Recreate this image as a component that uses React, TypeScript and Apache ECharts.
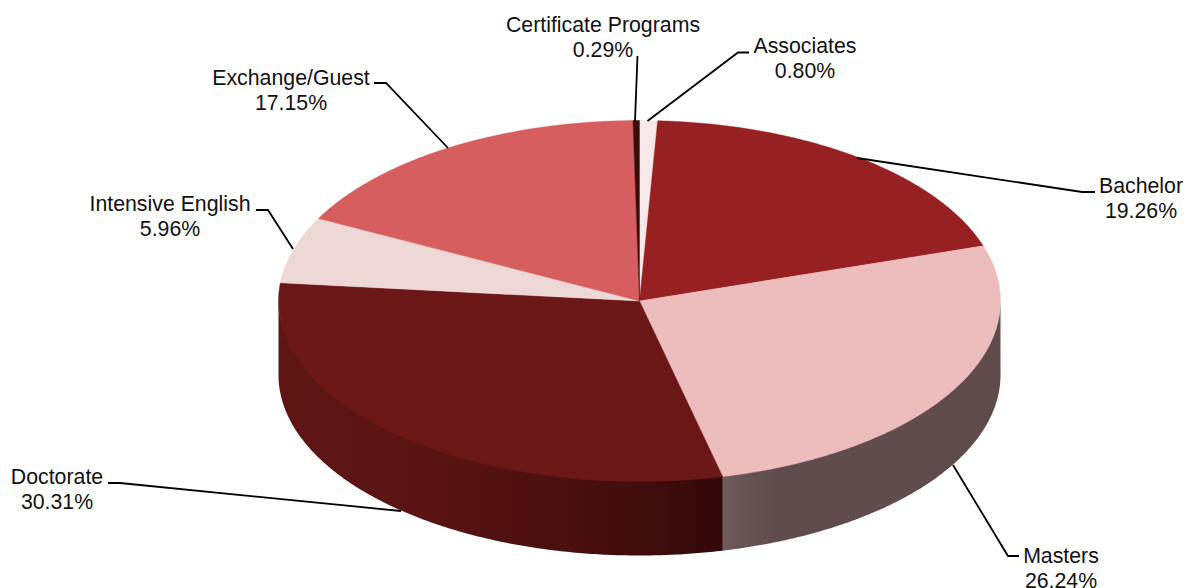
import React, { useEffect, useRef } from "react";
import * as echarts from "echarts";

const categories = ["Associates", "Bachelor", "Masters", "Doctorate", "Intensive English", "Exchange/Guest", "Certificate Programs"];
const shares = [0.8, 19.26, 26.24, 30.31, 5.96, 17.15, 0.29];

const topColors = ["#f7e9e9", "#972122", "#edbdbd", "#6c1717", "#eed8d6", "#d75e5e", "#3a0b0b"];

const CX = 639.5;
const CY = 301;
const RX = 361;
const RY = 180.5;
const DEPTH = 74;

const total = shares.reduce((a, b) => a + b, 0);
const startAngles: number[] = [];
shares.reduce((acc, v, i) => {
  startAngles[i] = acc;
  return acc + (v / total) * 360;
}, 0);
const endAngle = (i: number) => startAngles[i] + (shares[i] / total) * 360;

const pt = (deg: number, dy = 0): number[] => {
  const r = (deg * Math.PI) / 180;
  return [CX + RX * Math.sin(r), CY + dy - RY * Math.cos(r)];
};

const arcPoints = (a: number, b: number, dy = 0): number[][] => {
  const out: number[][] = [];
  const n = Math.max(2, Math.ceil(Math.abs(b - a) * 2));
  for (let k = 0; k <= n; k++) out.push(pt(a + ((b - a) * k) / n, dy));
  return out;
};

// stops for the side wall of a slice, left to right in screen space
const wallFills: Record<number, { offset: number; color: string }[]> = {
  2: [
    { offset: 0, color: "#6f5b5b" },
    { offset: 0.06, color: "#685454" },
    { offset: 0.18, color: "#604c4c" },
    { offset: 1, color: "#5f4b4b" },
  ],
  3: [
    { offset: 0, color: "#5e1615" },
    { offset: 0.35, color: "#581312" },
    { offset: 0.65, color: "#4a0f0f" },
    { offset: 0.85, color: "#3e0c0c" },
    { offset: 1, color: "#320808" },
  ],
};

const leaders: number[][][] = [
  [[749, 52.5], [738, 52.5], [647.5, 121]],
  [[1095, 192], [1082, 192], [857, 158]],
  [[1019, 556], [1008, 556], [953, 465]],
  [[108, 483], [120, 483], [401, 511]],
  [[256, 210], [268, 210], [293, 249]],
  [[374, 83], [386, 83], [448, 148]],
  [[637.5, 56], [635, 121]],
];
const labelCenters: number[][] = [
  [805, 58.5],
  [1141, 198],
  [1061, 568.5],
  [57, 489.5],
  [170, 216.5],
  [291, 90.5],
  [603, 37],
];

export default function App() {
  const ref = useRef<HTMLDivElement>(null);
  useEffect(() => {
    const chart = echarts.init(ref.current!, null, { renderer: "svg" });
    const seriesData = categories.map((name, i) => ({ name, value: shares[i] }));
    chart.setOption({
      animation: false,
      backgroundColor: "#ffffff",
      series: [
        {
          type: "custom",
          coordinateSystem: "none",
          silent: true,
          z: 1,
          data: seriesData,
          renderItem: (params: any) => {
            const i = params.dataIndex;
            const a = Math.max(startAngles[i], 90);
            const b = Math.min(endAngle(i), 270);
            if (b <= a) return { type: "group", children: [] };
            // the wall starts a little above the rim so no seam shows under the top face
            const pts = [...arcPoints(a, b, -2), ...arcPoints(b, a, DEPTH)];
            const xs = pts.map((p) => p[0]);
            return {
              type: "polygon",
              shape: { points: pts },
              style: {
                fill: new echarts.graphic.LinearGradient(
                  Math.min(...xs), 0, Math.max(...xs), 0,
                  wallFills[i].map((s) => ({ offset: s.offset, color: s.color })),
                  true
                ),
                stroke: "none",
              },
            };
          },
        },
        {
          type: "custom",
          coordinateSystem: "none",
          silent: true,
          z: 2,
          data: seriesData,
          renderItem: (params: any) => {
            const i = params.dataIndex;
            const pts = [[CX, CY], ...arcPoints(startAngles[i], endAngle(i))];
            return {
              type: "polygon",
              shape: { points: pts },
              style: { fill: topColors[i], stroke: topColors[i], lineWidth: 0.4 },
            };
          },
        },
      ],
      graphic: [
        ...leaders.map((points) => ({
          type: "polyline",
          z: 10,
          shape: { points },
          style: { stroke: "#000000", lineWidth: 1.8, fill: "none" },
        })),
        ...categories.map((name, i) => ({
          type: "text",
          z: 11,
          style: {
            text: `${name}\n${shares[i].toFixed(2)}%`,
            x: labelCenters[i][0],
            y: labelCenters[i][1],
            align: "center",
            verticalAlign: "middle",
            textAlign: "center",
            textVerticalAlign: "middle",
            font: '21.3px "Liberation Sans", Arial, sans-serif',
            lineHeight: 25,
            fill: "#111111",
          },
        })),
      ],
    });
    return () => chart.dispose();
  }, []);
  return <div ref={ref} style={{ position: "fixed", left: 0, top: 0, width: 1186, height: 588 }} />;
}
